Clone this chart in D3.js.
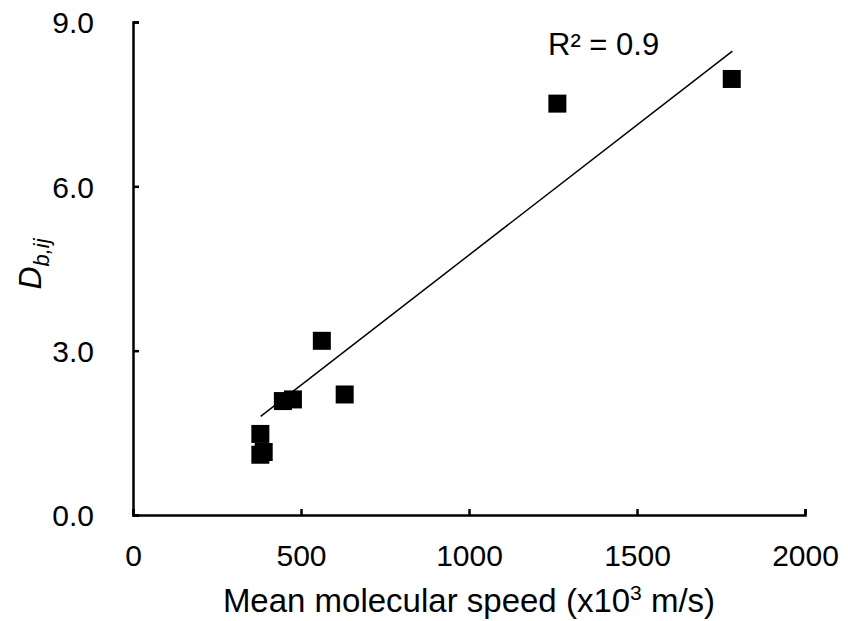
<!DOCTYPE html>
<html>
<head>
<meta charset="utf-8">
<script src="https://cdn.jsdelivr.net/npm/d3@7"></script>
<style>
  body { margin: 0; background: #fff; }
  text { font-family: "Liberation Sans", Arial, sans-serif; fill: #000; }
</style>
</head>
<body>
<script>
"use strict";

// Data

let speed = [379, 389, 379, 446, 476, 562, 630, 1263, 1782];
let dbij = [1.10, 1.15, 1.48, 2.08, 2.11, 3.18, 2.20, 7.51, 7.96];

let trendX = [380, 1784];
let trendY = [1.80, 8.47];

let xTicks = [0, 500, 1000, 1500, 2000];
let yTicks = [0, 3, 6, 9];

// Layout

let svgWidth = 848;
let svgHeight = 621;
let margin = {top: 22, right: 43, bottom: 106, left: 133};
let width = svgWidth - margin.left - margin.right;
let height = svgHeight - margin.top - margin.bottom;
let size = 18;

let xScale = d3.scaleLinear()
    .domain([0, 2000])
    .range([0, width]);

let yScale = d3.scaleLinear()
    .domain([0, 9])
    .range([height, 0]);

let svg = d3.select("body")
    .append("svg")
    .attr("width", svgWidth)
    .attr("height", svgHeight);

let g = svg.append("g")
    .attr("transform", `translate(${margin.left}, ${margin.top})`);

// Axes

let xAxis = d3.axisBottom(xScale)
    .tickValues(xTicks)
    .tickSizeInner(-6)
    .tickSizeOuter(-6)
    .tickPadding(0)
    .tickFormat(d3.format("d"));

let yAxis = d3.axisLeft(yScale)
    .tickValues(yTicks)
    .tickSizeInner(-6)
    .tickSizeOuter(-6)
    .tickPadding(0)
    .tickFormat(d3.format(".1f"));

let gx = g.append("g")
    .attr("transform", `translate(0, ${height})`)
    .call(xAxis);

let gy = g.append("g")
    .call(yAxis);

g.selectAll(".domain, .tick line")
    .style("stroke", "#000")
    .style("stroke-width", 2.5);

gx.selectAll(".tick text")
    .attr("y", 0)
    .attr("dy", "51px")
    .style("font-size", "30px");

gy.selectAll(".tick text")
    .attr("x", -39)
    .attr("dy", "0.36em")
    .style("font-size", "30px");

// Trend line

g.append("line")
    .attr("x1", xScale(trendX[0]))
    .attr("y1", yScale(trendY[0]))
    .attr("x2", xScale(trendX[1]))
    .attr("y2", yScale(trendY[1]))
    .style("stroke", "#000")
    .style("stroke-width", 1.5);

// Points

g.selectAll("rect.pt")
    .data(speed)
    .enter()
    .append("rect")
    .attr("class", "pt")
    .attr("x", (d) => xScale(d) - size / 2)
    .attr("y", (d, i) => yScale(dbij[i]) - size / 2)
    .attr("width", size)
    .attr("height", size)
    .style("fill", "#000");

// Labels

g.append("text")
    .attr("x", 415)
    .attr("y", 33)
    .style("font-size", "31px")
    .text("R² = 0.9");

let xl = svg.append("text")
    .attr("x", 469)
    .attr("y", 612)
    .style("font-size", "33px")
    .style("text-anchor", "middle");
xl.append("tspan").text("Mean molecular speed (x10");
xl.append("tspan").attr("dy", "-12").style("font-size", "21px").text("3");
xl.append("tspan").attr("dy", "12").text(" m/s)");

let yl = svg.append("text")
    .attr("transform", `translate(41, 264) rotate(-90)`)
    .style("font-size", "32px")
    .style("font-style", "italic")
    .style("text-anchor", "middle");
yl.append("tspan").text("D");
yl.append("tspan").attr("dy", "8").style("font-size", "22px").text("b,ij");
</script>
</body>
</html>
